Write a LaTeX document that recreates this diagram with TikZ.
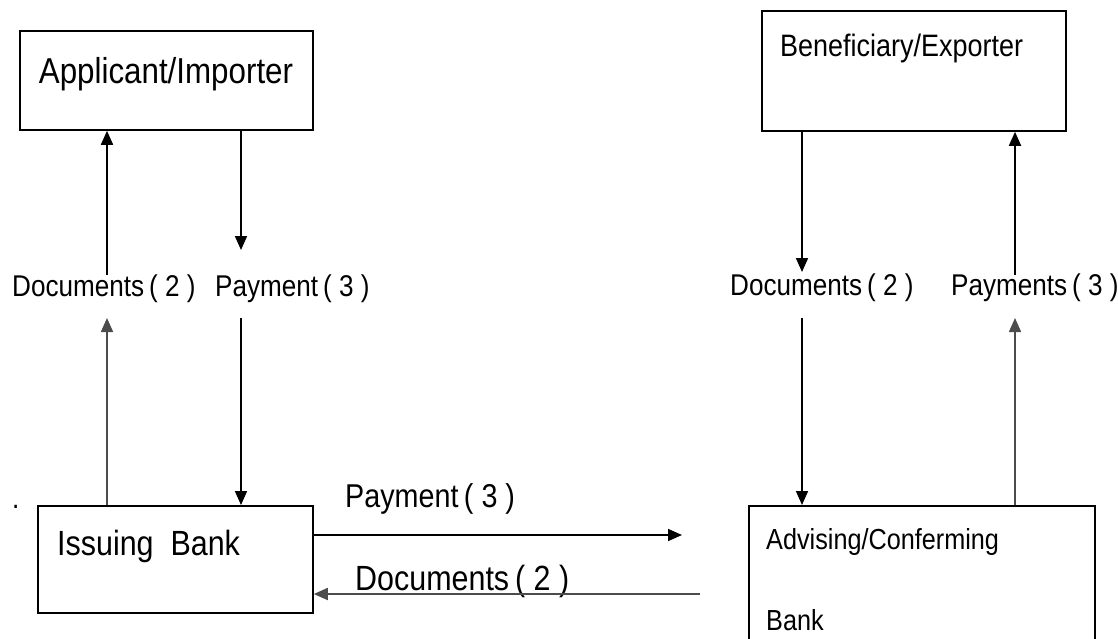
\documentclass[tikz,border=0pt]{standalone}
\usepackage{fontspec}
\setmainfont{Liberation Sans}[FakeStretch=0.87]
\usetikzlibrary{arrows.meta}
\begin{document}
\begin{tikzpicture}[x=1pt,y=-1pt,
  box/.style={draw=black,line width=1.8pt,anchor=north west,inner sep=0pt},
  txt/.style={anchor=base west,inner sep=0pt,text=black},
  lbl/.style={txt,font=\fontsize{30}{30}\selectfont},
  arr/.style={line width=1.7pt,draw=black,-{Triangle[length=14pt,width=12pt]}},
  soft/.style={draw=black!70}]
\useasboundingbox (0,0) rectangle (1118,638);
\clip (0,0) rectangle (1118,638);

% parties and banks
\node[box,minimum width=293pt,minimum height=99pt]  (app) at (19,30)  {};
\node[box,minimum width=304pt,minimum height=120pt] (ben) at (761,10) {};
\node[box,minimum width=275pt,minimum height=107pt] (iss) at (37,505) {};
\node[box,minimum width=346pt,minimum height=160pt] (adv) at (748,505) {};

\node[txt,anchor=base,font=\fontsize{36}{36}\selectfont] (appT) at (166,83) {Applicant/Importer};
\node[txt,font=\fontsize{31}{31}\selectfont] (benT) at (780,56) {Beneficiary/Exporter};
\node[txt,font=\fontsize{35}{35}\selectfont] (issT) at (57,555) {Issuing\ \ Bank};
\node[txt,font=\fontsize{29}{29}\selectfont] (advT) at (766,549) {Advising/Conferming};
\node[txt,font=\fontsize{29}{29}\selectfont] (advB) at (766,630) {Bank};
\node[txt,font=\fontsize{30}{30}\selectfont] (dot) at (12,508) {.};

% flow labels
\node[lbl] (docL) at (12,296)  {Documents\,( 2 )};
\node[lbl] (payL) at (215,296) {Payment\,( 3 )};
\node[lbl] (docR) at (730,295) {Documents\,( 2 )};
\node[lbl] (payR) at (951,295) {Payments\,( 3 )};
\node[txt,font=\fontsize{33}{33}\selectfont] (payB) at (345,507) {Payment\,( 3 )};
\node[txt,font=\fontsize{35}{35}\selectfont] (docB) at (355,590) {Documents\,( 2 )};

% free ends of the connectors
\coordinate (xa) at (107,0);
\coordinate (xb) at (241,0);
\coordinate (xc) at (802,0);
\coordinate (xd) at (1015,0);
\coordinate (yUp) at (0,275);
\coordinate (yDn) at (0,318);
\coordinate (pTip) at (241,250);
\coordinate (dTip) at (802,272);
\coordinate (payEnd) at (682,535);
\coordinate (docStart) at (700,594);

% applicant side
\draw[arr] (xa |- yUp) -- (xa |- app.south);
\draw[arr] (xb |- app.south) -- (pTip);
\draw[arr,soft] (xa |- iss.north) -- (xa |- yDn);
\draw[arr] (xb |- yDn) -- (xb |- iss.north);

% beneficiary side
\draw[arr] (xc |- ben.south) -- (dTip);
\draw[arr] (xc |- yDn) -- (xc |- adv.north);
\draw[arr,soft] (xd |- adv.north) -- (xd |- yDn);
\draw[arr] (xd |- yUp) -- (xd |- ben.south);

% between the banks
\draw[arr] (iss.east |- payEnd) -- (payEnd);
\draw[arr,soft] (docStart) -- (iss.east |- docStart);
\end{tikzpicture}
\end{document}
